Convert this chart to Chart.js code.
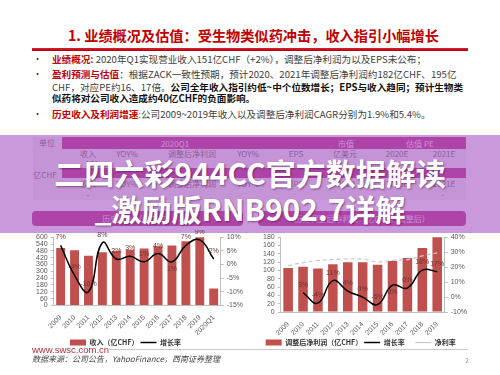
<!DOCTYPE html>
<html>
<head>
<meta charset="utf-8">
<script src="https://cdn.jsdelivr.net/npm/chart.js@4.4.0/dist/chart.umd.min.js"></script>
<style>
  html, body { margin: 0; padding: 0; background: #fff; }
  body { width: 500px; height: 375px; position: relative; overflow: hidden; font-family: "Noto Sans CJK SC", sans-serif; }
  .abs { position: absolute; white-space: nowrap; }
  .title { left: 68px; top: 25px; font-size: 14.2px; line-height: 20px; font-weight: bold; color: #c00000; }
  .rule { left: 32px; top: 48px; width: 436px; height: 3px; background: linear-gradient(#e3202c, #a8000e); }
  .txt { left: 52px; font-size: 9.6px; line-height: 12px; color: #404040; }
  .dot { left: 33px; font-size: 9px; line-height: 12px; color: #333; }
  .red { color: #c00000; font-weight: bold; }
  .b { font-weight: bold; color: #111; }
  .band { background: #b51470; }
  .cell { font-size: 8px; line-height: 10px; color: #555; transform: translateX(-50%); }
  .wcell { font-size: 8px; line-height: 11px; color: #f4e0ee; transform: translateX(-50%); }
  .pill { background: #b51470; border-radius: 4px; height: 15px; }
  .overlay { left: 0; top: 135px; width: 500px; height: 98px; background: rgba(172, 96, 200, 0.64); }
  .big { left: 0; width: 500px; text-align: center; font-size: 30px; line-height: 36px; font-weight: bold; color: #fff; text-shadow: 1px 1px 2px rgba(70, 20, 70, 0.55); }
  .box { position: absolute; }
</style>
</head>
<body>
<div class="abs title">1. 业绩概况及估值：受生物类似药冲击，收入指引小幅增长</div>
<div class="abs rule"></div>

<div class="abs dot" style="top:53px">•</div>
<div class="abs txt" style="top:53px"><span class="red">业绩概况:</span> 2020年Q1实现营业收入151亿CHF（+2%），调整后净利润为以及EPS未公布；</div>
<div class="abs dot" style="top:68px">•</div>
<div class="abs txt" style="top:68px"><span class="red">盈利预测与估值</span>：根据ZACK一致性预期，预计2020、2021年调整后净利润约182亿CHF、195亿</div>
<div class="abs txt" style="top:81px">CHF，对应PE约16、17倍。<span class="b">公司全年收入指引约低~中个位数增长；EPS与收入趋同；预计生物类</span></div>
<div class="abs txt" style="top:92px"><span class="b">似药将对公司收入造成约40亿CHF的负面影响。</span></div>
<div class="abs dot" style="top:108px">•</div>
<div class="abs txt" style="top:108px"><span class="red">历史收入及利润增速</span>:公司2009~2019年收入以及调整后净利润CAGR分别为1.9%和5.4%。</div>

<!-- table under the purple overlay -->
<div class="abs" style="left:33px;top:137px;width:433px;height:63px;background:#f1f1f1"></div>
<div class="abs band" style="left:62px;top:137px;width:404px;height:12px"></div>
<div class="abs band" style="left:62px;top:168px;width:404px;height:10px"></div>
<div class="abs cell" style="left:47px;top:138px;color:#555">单位</div>
<div class="abs wcell" style="left:175px;top:138px">2020Q1</div>
<div class="abs wcell" style="left:346px;top:138px">市值</div>
<div class="abs wcell" style="left:420px;top:138px">估值 PE</div>
<div class="abs cell" style="left:88px;top:149px">收入</div>
<div class="abs cell" style="left:127px;top:149px">YOY%</div>
<div class="abs cell" style="left:192px;top:149px">调整后净利润</div>
<div class="abs cell" style="left:248px;top:149px">YOY%</div>
<div class="abs cell" style="left:296px;top:149px">EPS</div>
<div class="abs cell" style="left:345px;top:149px">亿美元</div>
<div class="abs cell" style="left:397px;top:149px">2020E</div>
<div class="abs cell" style="left:444px;top:149px">2021E</div>
<div class="abs cell" style="left:92px;top:159px">151</div>
<div class="abs cell" style="left:45px;top:170px">亿CHF</div>
<div class="abs cell" style="left:88px;top:179px">收入</div>
<div class="abs cell" style="left:127px;top:179px">YOY%</div>
<div class="abs cell" style="left:192px;top:179px">调整后净利润</div>
<div class="abs cell" style="left:248px;top:179px">YOY%</div>
<div class="abs cell" style="left:296px;top:179px">EPS</div>
<div class="abs cell" style="left:346px;top:179px">2020</div>
<div class="abs cell" style="left:397px;top:179px">2020E</div>
<div class="abs cell" style="left:444px;top:179px">2021E</div>
<div class="abs cell" style="left:88px;top:190px">-</div>
<div class="abs cell" style="left:192px;top:190px">-</div>
<div class="abs cell" style="left:443px;top:190px">-</div>
<div class="abs pill" style="left:32px;top:211px;width:211px"></div>
<div class="abs pill" style="left:258px;top:211px;width:208px"></div>
<div class="abs wcell" style="left:138px;top:213px">历史收入（亿CHF）</div>
<div class="abs wcell" style="left:362px;top:213px">历史调整后净利润（亿CHF，调整后）</div>

<div class="abs overlay"></div>
<div class="abs big" style="top:154px">二四六彩944CC官方数据解读</div>
<div class="abs big" style="top:190px">_激励版RNB902.7详解</div>

<div class="box" style="left:21px;top:230px;width:231px;height:126px"><canvas id="chart-revenue"></canvas></div>
<div class="box" style="left:252px;top:230px;width:226px;height:126px"><canvas id="chart-profit"></canvas></div>

<div class="abs" style="left:32px;top:344px;font:9.5px 'Liberation Sans', Arial, sans-serif;color:#b0303a">www.swsc.com.cn</div>
<div class="abs" style="left:107px;top:349px;width:361px;height:1px;background:#c8c8c8"></div>
<div class="abs" style="left:32px;top:354px;font-size:8px;line-height:10px;font-style:italic;color:#444">数据来源：公司公告，YahooFinance，西南证券整理</div>
<div class="abs" style="left:465px;top:355px;font-size:7px;color:#999">2</div>

<script>
// revenue chart (left)
const revYears = ['2009', '2010', '2011', '2012', '2013', '2014', '2015', '2016', '2017', '2018', '2019', '2020Q1']
const revenue = [505, 485, 436, 467, 479, 490, 500, 520, 528, 564, 615, 148]
const revGrowth = [7, -4, -10, 8, 2, 3, 1, 4, 1, 7, 9, 2]
const revTicks = [0, 60, 120, 180, 240, 300, 360, 420, 480, 540, 600]
const revPctTicks = [-15, -10, -5, 0, 5, 10]

// adjusted net profit chart (right)
const profitYears = ['2009', '2010', '2011', '2012', '2013', '2014', '2015', '2016', '2017', '2018', '2019']
const adjProfit = [106, 109, 105, 115, 120, 120, 114, 123, 130, 154, 184]
const profitGrowth = [null, 3, -4, 11, 4, 0, -5, 8, 6, 18, 17]
const netMargin = [21, 23, 24.5, 25, 25.5, 25.3, 23.5, 24.5, 25, 27.5, 29.5]
const profitTicks = [0, 20, 40, 60, 80, 100, 120, 140, 160, 180]
const profitPctTicks = [-10, 0, 10, 20, 30, 40]

const barRed = '#c0504d'
const axisGray = '#bfbfbf'
const tickFont = { family: '"Liberation Sans", Arial, sans-serif', size: 7 }

// percent labels on the growth line
const pctLabels = {
    id: 'pctLabels',
    afterDatasetsDraw(chart, args, opts) {
        const ctx = chart.ctx
        const meta = chart.getDatasetMeta(opts.index)
        const values = chart.data.datasets[opts.index].data
        ctx.save()
        ctx.font = '7px "Liberation Sans", Arial, sans-serif'
        ctx.fillStyle = '#6b3434'
        ctx.textAlign = 'center'
        ctx.textBaseline = 'middle'
        meta.data.forEach((pt, i) => {
            if (values[i] == null) return
            let dy = opts.below.includes(i) ? 7 : -8
            ctx.fillText(values[i] + '%', pt.x, pt.y + dy)
        })
        ctx.restore()
    }
}

function axis(ticks, side, pct) {
    return {
        position: side,
        min: ticks[0],
        max: ticks[ticks.length - 1],
        afterBuildTicks: (scale) => { scale.ticks = ticks.map(v => ({ value: v })) },
        ticks: {
            autoSkip: false,
            font: tickFont,
            color: '#595959',
            padding: 3,
            callback: (v) => pct ? v + '%' : v
        },
        grid: { drawOnChartArea: false, tickLength: 3, color: axisGray },
        border: { color: axisGray }
    }
}

function drawChart(id, labels, datasets, leftTicks, rightTicks, below, pad, gap) {
    const ctx = document.getElementById(id).getContext('2d')
    return new Chart(ctx, {
        type: 'bar',
        data: { labels: labels, datasets: datasets },
        options: {
            responsive: true,
            maintainAspectRatio: false,
            animation: false,
            layout: { padding: pad },
            plugins: {
                tooltip: { enabled: false },
                legend: {
                    position: 'bottom',
                    labels: {
                        usePointStyle: true,
                        pointStyleWidth: 16,
                        boxHeight: 6,
                        padding: 2,
                        color: '#333',
                        sort: (a, b) => a.datasetIndex - b.datasetIndex,
                        font: { family: '"Noto Sans CJK SC", sans-serif', size: 7, weight: 'bold' },
                        generateLabels: (chart) => {
                            let items = Chart.defaults.plugins.legend.labels.generateLabels(chart)
                            items.forEach((it, i) => { if (i < items.length - 1) it.text += gap })
                            return items
                        }
                    }
                },
                pctLabels: { index: 1, below: below }
            },
            scales: {
                x: {
                    grid: { display: false },
                    border: { color: axisGray },
                    ticks: { font: tickFont, color: '#595959', maxRotation: 45, minRotation: 45, padding: 0, autoSkip: false }
                },
                y: axis(leftTicks, 'left', false),
                y1: axis(rightTicks, 'right', true)
            }
        },
        plugins: [pctLabels]
    })
}

drawChart('chart-revenue', revYears, [
    { type: 'bar', label: '收入（亿CHF）', data: revenue, backgroundColor: barRed, yAxisID: 'y', order: 2,
      barPercentage: 0.64, categoryPercentage: 1, pointStyle: 'rect' },
    { type: 'line', label: '增长率', data: revGrowth, borderColor: '#000', borderWidth: 1.5, yAxisID: 'y1', order: 0,
      tension: 0.45, pointRadius: 0, pointStyle: 'line', backgroundColor: '#000' }
], revTicks, revPctTicks, [8], { top: 2, left: 12, right: 6, bottom: 0 }, '　　　　')

drawChart('chart-profit', profitYears, [
    { type: 'bar', label: '调整后净利润（亿CHF）', data: adjProfit, backgroundColor: barRed, yAxisID: 'y', order: 2,
      barPercentage: 0.64, categoryPercentage: 1, pointStyle: 'rect' },
    { type: 'line', label: '增长率', data: profitGrowth, borderColor: '#000', borderWidth: 1.5, yAxisID: 'y1', order: 0,
      tension: 0.45, pointRadius: 0, pointStyle: 'line', backgroundColor: '#000' },
    { type: 'line', label: '净利率', data: netMargin, borderColor: '#c8c8c8', borderWidth: 1.2, borderDash: [4, 3], yAxisID: 'y1', order: 1,
      tension: 0.45, pointRadius: 0, pointStyle: 'line', backgroundColor: '#c8c8c8' }
], profitTicks, profitPctTicks, [7], { top: 2, left: 8, right: 8, bottom: 0 }, '　 ')
</script>
</body>
</html>
